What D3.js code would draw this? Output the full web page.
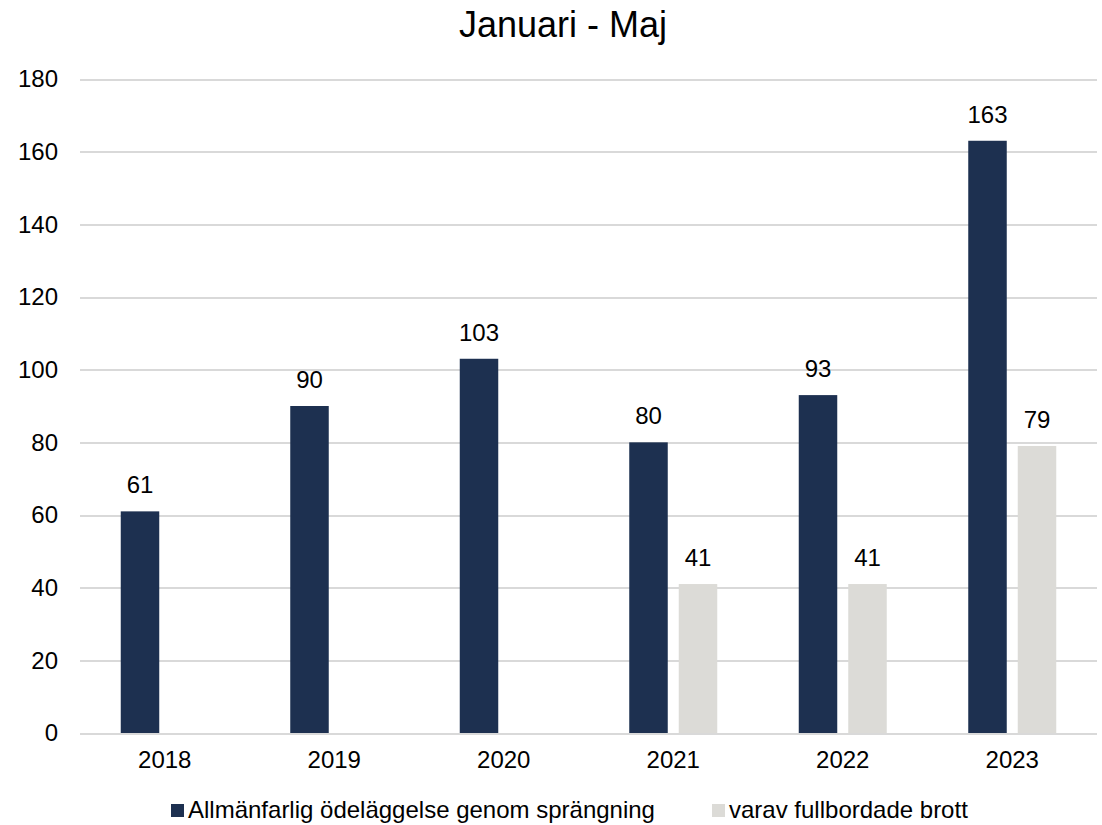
<!DOCTYPE html>
<html>
<head>
  <meta charset="utf-8">
  <script src="https://d3js.org/d3.v7.min.js"></script>
  <style>
    body{ margin: 0; background: #ffffff; }
    text{
      font-family: "Liberation Sans", Arial, sans-serif;
      fill: #000000;
    }
    text.title{ font-size: 36px; }
    .tick text{ font-size: 24px; }
    text.valueLabel{ font-size: 24px; }
    text.legendText{ font-size: 24px; }
    .tick line{ stroke: #d9d9d9; stroke-width: 2; shape-rendering: crispEdges; }
    path.domain{ display: none; }
  </style>
</head>
<body>
<script>

  const years = ['2018', '2019', '2020', '2021', '2022', '2023'];
  const totalValues = [61, 90, 103, 80, 93, 163];
  const completedValues = [null, null, null, 41, 41, 79];
  const yTicks = [0, 20, 40, 60, 80, 100, 120, 140, 160, 180];
  const seriesNames = ['Allmänfarlig ödeläggelse genom sprängning', 'varav fullbordade brott'];
  const seriesColours = ['#1d3050', '#dcdbd7'];

  const width = 1102, height = 825;
  const margin = {top: 79, right: 5, bottom: 92, left: 80};

  const svg = d3.select('body').append('svg')
    .attr('width', width)
    .attr('height', height);

  const x = d3.scaleBand()
    .domain(years)
    .range([margin.left, width - margin.right]);

  const y = d3.scaleLinear()
    .domain([0, 180])
    .range([height - margin.bottom, margin.top]);

  const barW = 38.5, barGap = 11;

  // gridlines + y labels
  const yAxis = d3.axisLeft(y)
    .tickValues(yTicks)
    .tickSize(-(width - margin.left - margin.right))
    .tickPadding(22)
    .tickFormat(d3.format('d'));

  svg.append('g')
    .attr('class', 'axis yAxis')
    .attr('transform', `translate(${margin.left},0)`)
    .call(yAxis);

  // x labels
  const xAxis = d3.axisBottom(x).tickSize(0).tickPadding(18);
  svg.append('g')
    .attr('class', 'axis xAxis')
    .attr('transform', `translate(0,${height - margin.bottom})`)
    .call(xAxis);

  const series = [totalValues, completedValues];

  series.forEach((vals, s) => {
    const rows = years.map((yr, i) => ({year: yr, value: vals[i]})).filter(d => d.value != null);
    const xOff = d => x(d.year) + x.bandwidth() / 2 - barW - barGap / 2 + s * (barW + barGap);

    svg.selectAll('rect.bar' + s)
      .data(rows)
      .enter()
      .append('rect')
      .attr('class', 'bar' + s)
      .attr('x', xOff)
      .attr('width', barW)
      .attr('y', d => y(d.value))
      .attr('height', d => y(0) - y(d.value))
      .style('fill', seriesColours[s]);

    svg.selectAll('text.valueLabel' + s)
      .data(rows)
      .enter()
      .append('text')
      .attr('class', 'valueLabel valueLabel' + s)
      .attr('x', d => xOff(d) + barW / 2)
      .attr('y', d => y(d.value) - 18)
      .style('text-anchor', 'middle')
      .text(d => d.value);
  });

  svg.append('text')
    .attr('class', 'title')
    .attr('x', 563)
    .attr('y', 37)
    .style('text-anchor', 'middle')
    .text('Januari - Maj');

  // legend
  const legendX = [171, 712];
  const legend = svg.selectAll('g.legend')
    .data(seriesNames)
    .enter()
    .append('g')
    .attr('class', 'legend')
    .attr('transform', (d, i) => `translate(${legendX[i]},804)`);

  legend.append('rect')
    .attr('width', 13)
    .attr('height', 13)
    .style('fill', (d, i) => seriesColours[i]);

  legend.append('text')
    .attr('class', 'legendText')
    .attr('x', 17)
    .attr('y', 14)
    .text(d => d);

</script>
</body>
</html>
